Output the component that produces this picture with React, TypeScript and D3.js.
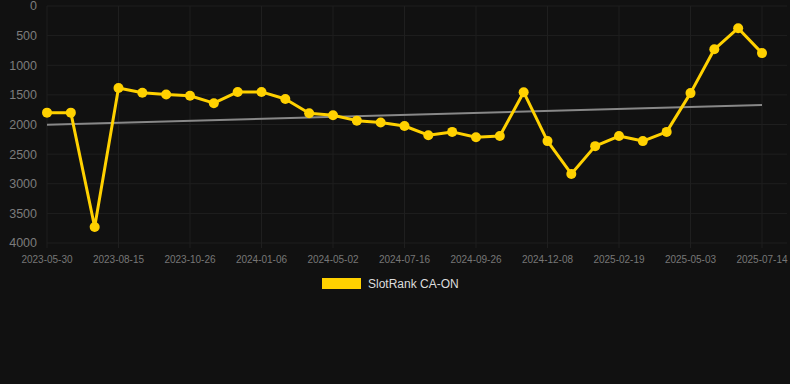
import React from "react";
import * as d3 from "d3";

const tickLabels = [
  "2023-05-30", "2023-08-15", "2023-10-26", "2024-01-06", "2024-05-02", "2024-07-16",
  "2024-09-26", "2024-12-08", "2025-02-19", "2025-05-03", "2025-07-14",
];
const rankValues = [
  1800, 1800, 3730, 1385, 1465, 1495, 1515, 1640, 1450, 1450, 1570,
  1810, 1845, 1935, 1965, 2025, 2180, 2125, 2215, 2195, 1455,
  2280, 2835, 2365, 2195, 2280, 2125, 1470, 730, 375, 795,
];
const trendValues = [2005, 1670];
const yTicks = [0, 500, 1000, 1500, 2000, 2500, 3000, 3500, 4000];
const seriesName = "SlotRank CA-ON";

const W = 790;
const H = 384;
const left = 47;
const right = 762;
const top = 6;
const bottom = 243;

export default function App() {
  const idx = rankValues.map((_, i) => i);
  const x = d3.scalePoint<number>().domain(idx).range([left, right]);
  const y = d3.scaleLinear().domain([0, 4000]).range([top, bottom]);
  const line = d3
    .line<number>()
    .x((_, i) => x(i) as number)
    .y((d) => y(d));
  const tickStep = 3;
  const font = "Arial, 'Liberation Sans', Helvetica, sans-serif";
  return (
    <svg
      width={W}
      height={H}
      style={{ position: "absolute", left: 0, top: 0, display: "block" }}
      fontFamily={font}
    >
      <rect x={0} y={0} width={W} height={H} fill="#111111" />
      {yTicks.map((t) => (
        <line key={"gy" + t} x1={left} x2={787} y1={y(t)} y2={y(t)} stroke="#1f1f1f" strokeWidth={1} />
      ))}
      {tickLabels.map((_, k) => (
        <line
          key={"gx" + k}
          x1={x(k * tickStep)}
          x2={x(k * tickStep)}
          y1={top}
          y2={bottom + 5}
          stroke="#1f1f1f"
          strokeWidth={1}
        />
      ))}
      {yTicks.map((t) => (
        <text key={"yl" + t} x={37} y={y(t)} dy="0.35em" textAnchor="end" fontSize={12.5} fill="#7c7c7c">
          {t}
        </text>
      ))}
      {tickLabels.map((l, k) => (
        <text key={"xl" + k} x={x(k * tickStep)} y={263} textAnchor="middle" fontSize={10} fill="#777777">
          {l}
        </text>
      ))}
      <line
        x1={left}
        x2={right}
        y1={y(trendValues[0])}
        y2={y(trendValues[1])}
        stroke="#888888"
        strokeWidth={2}
      />
      <path d={line(rankValues) || ""} fill="none" stroke="#FFD100" strokeWidth={3} strokeLinejoin="round" />
      {rankValues.map((v, i) => (
        <circle key={"p" + i} cx={x(i)} cy={y(v)} r={5} fill="#FFD100" />
      ))}
      <rect x={322} y={278} width={39} height={11} fill="#FFD100" />
      <text x={368} y={284} dy="0.35em" fontSize={12} fill="#dddddd">
        {seriesName}
      </text>
    </svg>
  );
}
